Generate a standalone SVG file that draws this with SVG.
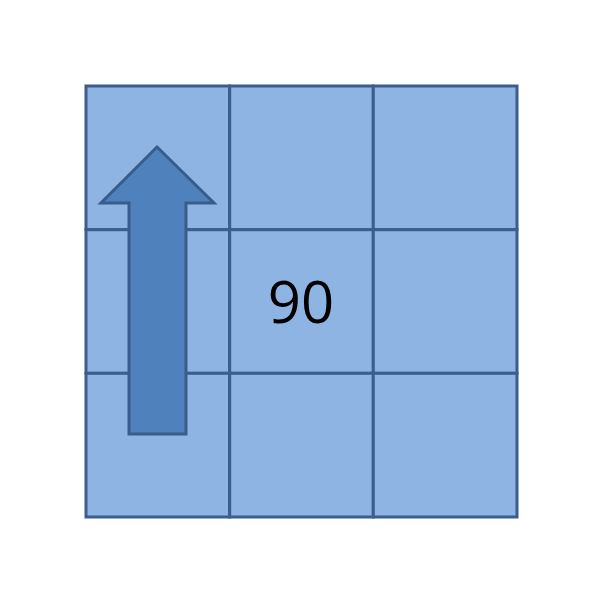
<svg xmlns="http://www.w3.org/2000/svg" width="604" height="604" viewBox="0 0 604 604">
<style>
.cell{fill:#8EB4E3;stroke:#3B5E8C;stroke-width:3}
.lbl{font-family:"Open Sans","Liberation Sans",sans-serif;font-size:58px;fill:#000;text-anchor:middle}
</style>
<rect width="604" height="604" fill="#fff"/>
<g id="grid">
<rect id="c00" class="cell" x="86" y="86" width="143.7" height="143.7"/>
<rect id="c01" class="cell" x="229.7" y="86" width="143.6" height="143.7"/>
<rect id="c02" class="cell" x="373.3" y="86" width="143.7" height="143.7"/>
<rect id="c10" class="cell" x="86" y="229.7" width="143.7" height="143.6"/>
<rect id="c11" class="cell" x="229.7" y="229.7" width="143.6" height="143.6"/>
<rect id="c12" class="cell" x="373.3" y="229.7" width="143.7" height="143.6"/>
<rect id="c20" class="cell" x="86" y="373.3" width="143.7" height="143.7"/>
<rect id="c21" class="cell" x="229.7" y="373.3" width="143.6" height="143.7"/>
<rect id="c22" class="cell" x="373.3" y="373.3" width="143.7" height="143.7"/>
</g>
<g id="arrow">
<polygon points="157,147 214,203 186,203 186,434 129,434 129,203 101,203" fill="#4F81BD" stroke="#385D8A" stroke-width="3" stroke-linejoin="miter"/>
</g>
<g id="label">
<text class="lbl" x="301" y="323">90</text>
</g>
</svg>
